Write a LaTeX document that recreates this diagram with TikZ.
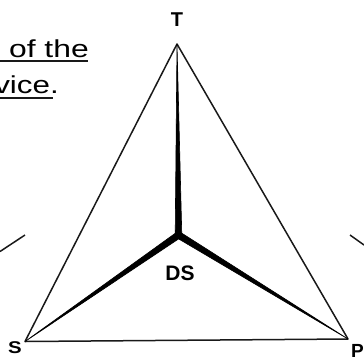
\documentclass[tikz,border=0pt]{standalone}
\usepackage{fontspec}
\setmainfont{Liberation Sans}
\usetikzlibrary{calc}
\tikzset{
  edge/.style={line width=1.5pt, black!90},
  wedge/.style={fill=black, draw=black, line width=0.6pt, line join=round},
  vlabel/.style={inner sep=0pt, font=\bfseries},
  caption/.style={inner sep=0pt, font=\fontsize{24.5}{28}\selectfont}
}
\begin{document}
\begin{tikzpicture}[x=1pt,y=-1pt]
\useasboundingbox (0,0) rectangle (364,360);
% vertices
\coordinate (T) at (177,44);
\coordinate (S) at (25,341.5);
\coordinate (P) at (348,339);
\coordinate (J) at (178.5,235);
% outer triangle
\draw[edge, line join=round] (T) -- (S) -- (P) -- cycle;
% tapered spokes
\fill[wedge] (T) -- ($(J)!3.3pt!90:(T)$) -- ($(J)!3.3pt!-90:(T)$) -- cycle;
\fill[wedge] (S) -- ($(J)!3.3pt!90:(S)$) -- ($(J)!3.3pt!-90:(S)$) -- cycle;
\fill[wedge] (P) -- ($(J)!3.3pt!90:(P)$) -- ($(J)!3.3pt!-90:(P)$) -- cycle;
\fill[black] (J) circle (3.3pt);
% stray strokes at the sides
\coordinate (la) at (0,251.5);
\coordinate (lb) at (25,235);
\coordinate (ra) at (350,235);
\coordinate (rb) at (364,245);
\draw[edge] (la) -- (lb);
\draw[edge] (ra) -- (rb);
% vertex labels
\node[vlabel, font=\bfseries\fontsize{20}{22}\selectfont] (tl) at (177,19.5) {T};
\node[vlabel, font=\bfseries\fontsize{21}{24}\selectfont] (ds) at (180,273) {DS};
\node[vlabel, font=\bfseries\fontsize{17}{20}\selectfont] (sl) at (15,347.5) {\scalebox{1.2}[1]{S}};
\node[vlabel, font=\bfseries\fontsize{19}{22}\selectfont, anchor=base west] (pl) at (351,357) {P};
% caption text
\node[caption, anchor=base east] (c1) at (89,57.3) {\scalebox{1.3}[1]{l of the}};
\node[caption, anchor=base east] (c2) at (59,93) {\scalebox{1.28}[1]{vice.}};
\draw[line width=2pt, black!90] (0,60.7) -- (88,60.7);
\draw[line width=2pt, black!90] (0,98) -- (53,98);
\end{tikzpicture}
\end{document}
